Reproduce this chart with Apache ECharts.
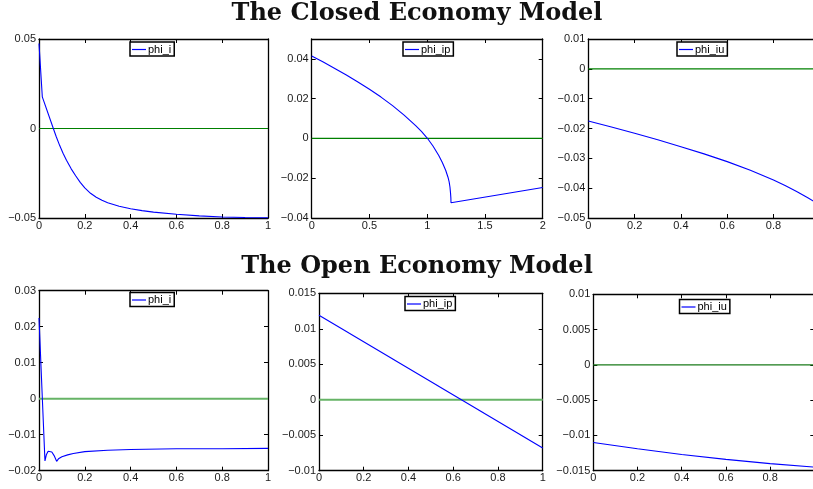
<!DOCTYPE html>
<html>
<head>
<meta charset="utf-8">
<script src="https://cdn.jsdelivr.net/npm/echarts@6/dist/echarts.min.js"></script>
<style>
  html, body { margin: 0; padding: 0; background: #fff; }
  #chart { width: 813px; height: 489px; }
</style>
</head>
<body>
<div id="chart"></div>
<script>
// ---- Closed economy model ----
const closedIX = [0, 0.0144, 0.0626, 0.075, 0.09, 0.105, 0.12, 0.14, 0.16, 0.18, 0.2, 0.225, 0.25, 0.275, 0.3, 0.35, 0.4, 0.45, 0.5, 0.6, 0.7, 0.8, 0.9, 1.0];
const closedIY = [0.0475, 0.0177, 0, -0.0045, -0.0094, -0.0138, -0.0177, -0.0224, -0.0264, -0.0301, -0.0332, -0.0362, -0.0384, -0.0401, -0.0415, -0.0434, -0.0448, -0.0459, -0.0467, -0.0479, -0.0488, -0.0494, -0.0497, -0.0499];

const closedIPX = [0, 0.1, 0.2, 0.3, 0.4, 0.5, 0.6, 0.7, 0.8, 0.9, 0.95, 1.0, 1.05, 1.1, 1.13, 1.16, 1.18, 1.19, 1.197, 1.202, 1.205, 1.206, 2.0];
const closedIPY = [0.0415, 0.0384, 0.0352, 0.0319, 0.0284, 0.0247, 0.0208, 0.0165, 0.0117, 0.0064, 0.0035, 0.0002, -0.0038, -0.0086, -0.0120, -0.0160, -0.0195, -0.0218, -0.0244, -0.0275, -0.0300, -0.0323, -0.0247];

const closedIUX = [0, 0.1, 0.2, 0.3, 0.4, 0.5, 0.6, 0.7, 0.8, 0.85, 0.9, 0.95, 1.0];
const closedIUY = [-0.0175, -0.0195, -0.0216, -0.0238, -0.0261, -0.0285, -0.0311, -0.0340, -0.0373, -0.0391, -0.0411, -0.0433, -0.0456];

// ---- Open economy model ----
const openIX = [0, 0.0146, 0.026, 0.032, 0.04, 0.048, 0.056, 0.066, 0.077, 0.085, 0.1, 0.125, 0.15, 0.2, 0.3, 0.4, 0.6, 0.8, 1.0];
const openIY = [0.0224, 0, -0.0173, -0.0156, -0.0146, -0.0144, -0.0148, -0.0158, -0.0174, -0.0167, -0.0161, -0.0156, -0.0152, -0.0147, -0.0143, -0.0141, -0.0139, -0.0139, -0.0138];

const openIPX = [0, 1.0];
const openIPY = [0.0119, -0.0068];

const openIUX = [0, 0.2, 0.4, 0.6, 0.8, 1.0];
const openIUY = [-0.0110, -0.0119, -0.0127, -0.0134, -0.0140, -0.0145];

// Titles and series names
const titles = ['The Closed Economy Model', 'The Open Economy Model'];
const seriesNames = ['phi_i', 'phi_ip', 'phi_iu', 'phi_i', 'phi_ip', 'phi_iu'];

// Axis ranges: [min, max, interval]
const xRanges = [[0, 1, 0.2], [0, 2, 0.5], [0, 1, 0.2], [0, 1, 0.2], [0, 1, 0.2], [0, 1, 0.2]];
const yRanges = [[-0.05, 0.05, 0.05], [-0.04, 0.05, 0.02], [-0.05, 0.01, 0.01],
                 [-0.02, 0.03, 0.01], [-0.01, 0.015, 0.005], [-0.015, 0.01, 0.005]];

const xs = [closedIX, closedIPX, closedIUX, openIX, openIPX, openIUX];
const ys = [closedIY, closedIPY, closedIUY, openIY, openIPY, openIUY];

// Panel layout
const layout = [
  { grid: { left: 39, top: 39, width: 229, height: 179 }, legend: { left: 130, top: 42 }, zero: '#008000', zeroW: 1.2 },
  { grid: { left: 311.7, top: 39, width: 231, height: 179 }, legend: { left: 403, top: 42 }, zero: '#008000', zeroW: 1.2 },
  { grid: { left: 588.3, top: 39, width: 231.5, height: 179 }, legend: { left: 677, top: 42 }, zero: '#008000', zeroW: 1.2 },
  { grid: { left: 39, top: 290.7, width: 229, height: 180 }, legend: { left: 130, top: 292.5 }, zero: '#66b366', zeroW: 2 },
  { grid: { left: 319, top: 293.3, width: 223.7, height: 177.4 }, legend: { left: 405, top: 296.5 }, zero: '#66b366', zeroW: 2 },
  { grid: { left: 593.3, top: 294.3, width: 221, height: 176.4 }, legend: { left: 679.5, top: 299.5 }, zero: '#1a7a1a', zeroW: 1.2 }
];

const FONT = 'Liberation Sans, Arial, Helvetica, sans-serif';
const minus = v => String(v).replace('-', '\u2212');

const grid = [], xAxis = [], yAxis = [], series = [], legend = [];

layout.forEach((p, g) => {
  grid.push(Object.assign({ containLabel: false, outerBoundsMode: 'none' }, p.grid));
  const [x0, x1, xi] = xRanges[g];
  const [y0, y1, yi] = yRanges[g];
  const line = { show: true, onZero: false, lineStyle: { color: '#000', width: 1.3 } };
  const tick = { show: true, inside: true, length: 4, lineStyle: { color: '#000', width: 1 } };
  // bottom axis with labels, top axis for the frame and mirrored ticks
  xAxis.push({
    type: 'value', gridIndex: g, position: 'bottom', min: x0, max: x1, interval: xi,
    axisLine: line, axisTick: tick, splitLine: { show: false },
    axisLabel: { show: true, margin: 2, fontSize: 11, color: '#1a1a1a', fontFamily: FONT,
                 formatter: minus, showMaxLabel: g !== 2 && g !== 5 }
  });
  xAxis.push({
    type: 'value', gridIndex: g, position: 'top', min: x0, max: x1, interval: xi,
    axisLine: line, axisTick: tick, splitLine: { show: false }, axisLabel: { show: false }
  });
  yAxis.push({
    type: 'value', gridIndex: g, position: 'left', min: y0, max: y1, interval: yi,
    axisLine: line, axisTick: tick, splitLine: { show: false },
    axisLabel: { show: true, margin: 3, fontSize: 11, color: '#1a1a1a', fontFamily: FONT,
                 formatter: minus, showMaxLabel: g !== 1 }
  });
  yAxis.push({
    type: 'value', gridIndex: g, position: 'right', min: y0, max: y1, interval: yi,
    axisLine: line, axisTick: tick, splitLine: { show: false }, axisLabel: { show: false }
  });

  // zero reference line
  series.push({
    type: 'line', name: 'zero' + g, xAxisIndex: 2 * g, yAxisIndex: 2 * g,
    data: [[x0, 0], [x1, 0]], showSymbol: false, symbol: 'none', silent: true,
    lineStyle: { color: p.zero, width: p.zeroW }, z: 2
  });
  // response curve
  series.push({
    type: 'line', name: seriesNames[g], xAxisIndex: 2 * g, yAxisIndex: 2 * g,
    data: xs[g].map((x, i) => [x, ys[g][i]]), showSymbol: false, symbol: 'none',
    lineStyle: { color: '#0000ff', width: 1.1 }, itemStyle: { color: '#0000ff' }, z: 3
  });

  legend.push({
    left: p.legend.left, top: p.legend.top, orient: 'horizontal',
    data: [{ name: seriesNames[g], icon: 'rect' }],
    selectedMode: false, itemWidth: 14, itemHeight: 1.2, itemGap: 0,
    padding: [2, 3, 1, 2], borderColor: '#000', borderWidth: 1.5, backgroundColor: '#fff',
    textStyle: { fontSize: 11, color: '#000', fontFamily: FONT, padding: [0, 0, 0, -3] }
  });
});

const titleStyle = { fontFamily: 'DejaVu Serif, serif', fontWeight: 'bold', fontSize: 24, color: '#111' };

const option = {
  animation: false,
  backgroundColor: '#fff',
  title: [
    { text: titles[0], left: 417, top: 2, textAlign: 'center', padding: 0, textStyle: titleStyle },
    { text: titles[1], left: 417, top: 255, textAlign: 'center', padding: 0, textStyle: titleStyle }
  ],
  grid, xAxis, yAxis, series, legend
};

const chart = echarts.init(document.getElementById('chart'), null, { renderer: 'canvas' });
chart.setOption(option);
</script>
</body>
</html>
